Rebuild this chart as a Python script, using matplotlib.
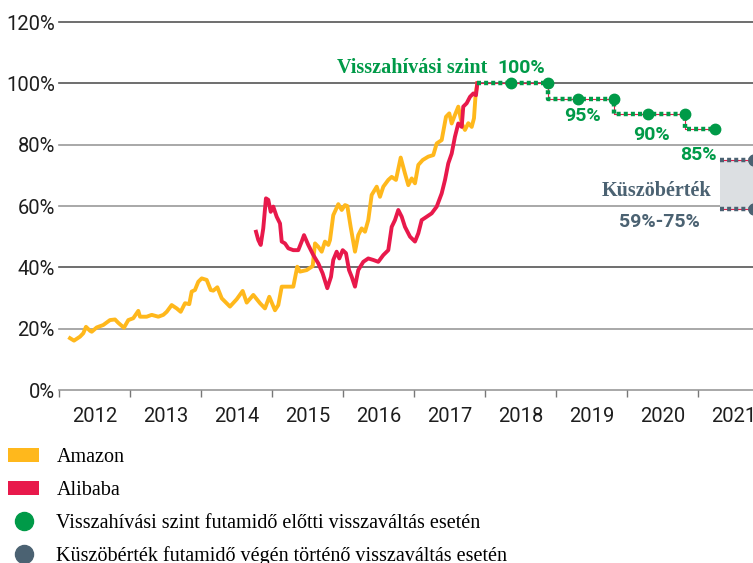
import matplotlib
matplotlib.use("Agg")
import matplotlib.pyplot as plt
from matplotlib.patches import Patch, Rectangle
from matplotlib.lines import Line2D

# --- data (decimal year, % of initial level) ---
amazon_x = [2012.155, 2012.211, 2012.296, 2012.342, 2012.380, 2012.437, 2012.461, 2012.531,
            2012.624, 2012.718, 2012.789, 2012.835, 2012.915, 2012.976, 2013.046, 2013.117,
            2013.141, 2013.235, 2013.306, 2013.399, 2013.469, 2013.517, 2013.587, 2013.658,
            2013.714, 2013.775, 2013.835, 2013.869, 2013.915, 2013.962, 2014.010, 2014.080,
            2014.137, 2014.173, 2014.230, 2014.292, 2014.408, 2014.503, 2014.587, 2014.644,
            2014.737, 2014.831, 2014.901, 2014.962, 2015.042, 2015.089, 2015.137, 2015.230,
            2015.300, 2015.356, 2015.394, 2015.489, 2015.573, 2015.606, 2015.652, 2015.700,
            2015.746, 2015.793, 2015.817, 2015.863, 2015.934, 2015.982, 2016.028, 2016.061,
            2016.108, 2016.169, 2016.215, 2016.263, 2016.310, 2016.356, 2016.404, 2016.475,
            2016.521, 2016.568, 2016.638, 2016.686, 2016.746, 2016.813, 2016.873, 2016.920,
            2016.968, 2017.014, 2017.061, 2017.123, 2017.201, 2017.272, 2017.320, 2017.390,
            2017.451, 2017.497, 2017.531, 2017.577, 2017.624, 2017.672, 2017.718, 2017.765,
            2017.813, 2017.845, 2017.869, 2017.892]
amazon_y = [16.9, 16.1, 17.4, 18.5, 20.6, 19.3, 19.0, 20.4,
            21.2, 22.8, 23.0, 21.9, 20.3, 22.8, 23.4, 25.8,
            23.9, 23.9, 24.5, 23.9, 24.5, 25.5, 27.7, 26.6,
            25.5, 28.3, 28.0, 32.1, 32.6, 35.3, 36.4, 35.9,
            32.6, 32.4, 33.5, 29.9, 27.2, 29.6, 32.3, 28.5,
            31.0, 28.3, 26.6, 30.4, 26.0, 27.7, 33.7, 33.7,
            33.7, 40.2, 38.6, 39.1, 40.4, 47.8, 46.7, 45.1,
            48.4, 47.3, 48.9, 57.0, 60.6, 58.7, 60.3, 60.0,
            53.2, 45.1, 50.5, 52.7, 51.6, 55.4, 63.6, 66.3,
            63.0, 66.3, 68.5, 69.5, 68.5, 75.8, 70.6, 66.8,
            69.0, 67.4, 73.4, 75.0, 76.1, 76.6, 80.4, 81.5,
            89.1, 90.2, 86.9, 89.7, 92.4, 86.9, 84.8, 87.0,
            85.8, 88.6, 96.7, 100.0]

alibaba_x = [2014.775, 2014.807, 2014.841, 2014.877, 2014.915, 2014.948, 2014.982, 2015.018,
             2015.066, 2015.113, 2015.137, 2015.183, 2015.230, 2015.300, 2015.370, 2015.418,
             2015.451, 2015.511, 2015.582, 2015.652, 2015.714, 2015.779, 2015.831, 2015.863,
             2015.911, 2015.948, 2015.996, 2016.042, 2016.085, 2016.123, 2016.169, 2016.215,
             2016.286, 2016.356, 2016.427, 2016.497, 2016.568, 2016.638, 2016.686, 2016.732,
             2016.779, 2016.827, 2016.873, 2016.944, 2017.014, 2017.061, 2017.108, 2017.179,
             2017.249, 2017.320, 2017.390, 2017.437, 2017.483, 2017.531, 2017.577, 2017.624,
             2017.672, 2017.694, 2017.742, 2017.789, 2017.836, 2017.873, 2017.892]
alibaba_y = [51.6, 48.9, 47.3, 52.7, 62.5, 62.0, 58.1, 59.8,
             56.5, 54.3, 48.4, 47.8, 46.2, 45.6, 45.6, 48.4,
             50.5, 47.3, 44.0, 41.3, 38.0, 33.2, 36.9, 42.4,
             45.1, 42.9, 45.6, 44.6, 39.1, 36.9, 33.7, 39.1,
             41.8, 42.9, 42.4, 41.8, 44.0, 45.6, 53.2, 55.4,
             58.7, 56.5, 53.2, 50.0, 48.4, 51.1, 55.4, 56.5,
             57.6, 59.8, 64.1, 68.5, 73.9, 77.1, 82.6, 86.9,
             85.8, 92.4, 93.5, 95.6, 96.7, 96.1, 100.0]

# autocall (callable) levels: observation dates and levels
call_x = [2018.37, 2018.89, 2019.31, 2019.82, 2020.30, 2020.82, 2021.24]
call_y = [100, 100, 95, 95, 90, 90, 85]
call_start = 2017.892
call_labels = ["100%", "95%", "90%", "85%"]

# threshold band at maturity
barrier_start = 2021.31
barrier_end = 2021.79
barrier_lo, barrier_hi = 59, 75

years = list(range(2012, 2022))
yticks = [0, 20, 40, 60, 80, 100, 120]

AMZ = "#FFB81C"
BABA = "#E8194B"
GREEN = "#009A48"
SLATE = "#4B6272"

NARROW = ["Liberation Sans Narrow", "Roboto", "DejaVu Sans"]
SERIF = ["Liberation Serif", "DejaVu Serif"]

fig = plt.figure(figsize=(7.53, 5.63), dpi=100)
ax = fig.add_axes([59 / 753, 1 - 390 / 563, 1 - 59 / 753, (390 - 22) / 563])

ax.set_xlim(2012.0, 2021.775)
ax.set_ylim(0, 120)
for s in ax.spines.values():
    s.set_visible(False)

ax.set_yticks(yticks)
ax.set_yticklabels([f"{v}%" for v in yticks], family=NARROW, fontsize=14.5, color="#1e1e1e")
ax.tick_params(axis="y", length=0, pad=3)
grid_cols = ["#9a9a9a", "#9a9a9a", "#555555", "#9a9a9a", "#9a9a9a", "#555555", "#555555"]
for v, c in zip(yticks, grid_cols):
    ax.axhline(v, color=c, lw=1.2, zorder=1, clip_on=False)

ax.set_xticks(years)
ax.set_xticklabels([])
ax.tick_params(axis="x", which="major", length=5, width=1, color="#777777", direction="out")
ax.set_xticks([y + 0.5 for y in years], minor=True)
ax.set_xticklabels([str(y) for y in years], minor=True, family=NARROW, fontsize=14.5,
                   color="#1e1e1e")
ax.tick_params(axis="x", which="minor", length=0, pad=12)

ax.plot(amazon_x, amazon_y, color=AMZ, lw=2.8, zorder=3, solid_joinstyle="round")
ax.plot(alibaba_x, alibaba_y, color=BABA, lw=2.8, zorder=4, solid_joinstyle="round")

# stepped callable level line
step_x = [call_start]
step_y = [call_y[0]]
for i in range(1, len(call_x), 2):
    step_x += [call_x[i], call_x[i]]
    step_y += [call_y[i], call_y[i + 1] if i + 1 < len(call_y) else call_y[i]]
step_x.append(call_x[-1])
step_y.append(call_y[-1])
ax.plot(step_x, step_y, color=BABA, lw=0.8, zorder=5)
ax.plot(step_x, step_y, color=GREEN, lw=3.2, ls=(0, (0.9, 0.7)), zorder=6)
ax.plot(call_x, call_y, "o", color=GREEN, ms=7.5, zorder=7)

# threshold band
ax.add_patch(Rectangle((barrier_start, barrier_lo), barrier_end - barrier_start,
                       barrier_hi - barrier_lo, facecolor="#DCDFE2", edgecolor="none",
                       zorder=2))
for lvl in (barrier_lo, barrier_hi):
    ax.plot([barrier_start, barrier_end], [lvl, lvl], color=BABA, lw=0.8, zorder=5)
    ax.plot([barrier_start, barrier_end], [lvl, lvl], color=SLATE, lw=3.2,
            ls=(0, (0.9, 0.7)), zorder=6)
    ax.plot([barrier_end], [lvl], "o", color=SLATE, ms=8, zorder=7)

# annotations
ax.text(2018.03, 105, "Visszahívási szint", ha="right", va="center", color=GREEN,
        family=SERIF, fontweight="bold", fontsize=14.5)
label_pos = [(2018.51, 105), (2019.37, 89.3), (2020.35, 83.1), (2021.01, 76.6)]
for (tx, ty), lab in zip(label_pos, call_labels):
    ax.text(tx, ty, lab, ha="center", va="center", color=GREEN, family=NARROW,
            fontweight="bold", fontsize=14)
ax.text(2020.42, 64.9, "Küszöbérték", ha="center", va="center", color=SLATE,
        family=SERIF, fontweight="bold", fontsize=14.5)
ax.text(2020.46, 54.8, f"{barrier_lo}%-{barrier_hi}%", ha="center", va="center",
        color=SLATE, family=NARROW, fontweight="bold", fontsize=14)

handles = [
    Patch(facecolor=AMZ, edgecolor="none"),
    Patch(facecolor=BABA, edgecolor="none"),
    Line2D([], [], ls="none", marker="o", ms=13, color=GREEN),
    Line2D([], [], ls="none", marker="o", ms=13, color=SLATE),
]
labels = ["Amazon", "Alibaba",
          "Visszahívási szint futamidő előtti visszaváltás esetén",
          "Küszöbérték futamidő végén történő visszaváltás esetén"]
fig.legend(handles, labels, loc="upper left", bbox_to_anchor=(8 / 753, 1 - 448 / 563),
           frameon=False, borderpad=0, borderaxespad=0, handlelength=1.55,
           handleheight=0.7, handletextpad=0.85, labelspacing=0.68,
           prop={"family": SERIF, "size": 14.5})

fig.savefig("out.png", dpi=100)
